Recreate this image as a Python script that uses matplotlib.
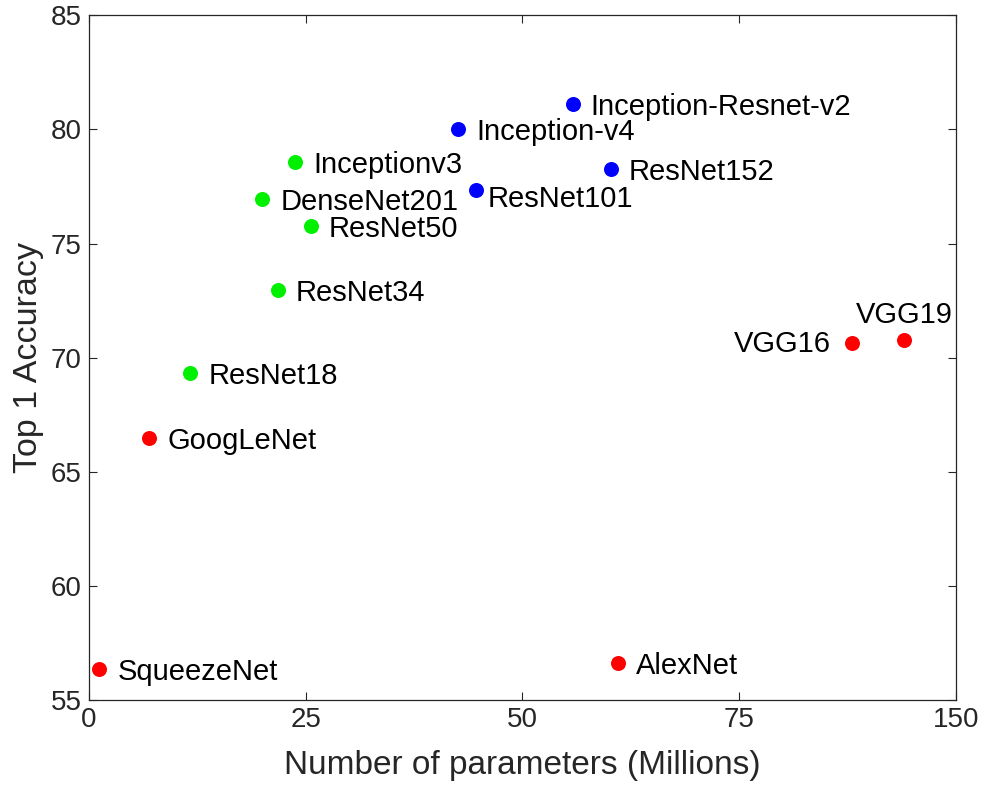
import numpy as np
import matplotlib
matplotlib.use("Agg")
import matplotlib.pyplot as plt

plt.rcParams['font.family'] = ['Liberation Sans', 'DejaVu Sans']

names = ["SqueezeNet", "GoogLeNet", "ResNet18", "ResNet34", "ResNet50",
         "DenseNet201", "Inceptionv3", "Inception-v4", "ResNet101",
         "Inception-Resnet-v2", "ResNet152", "AlexNet", "VGG16", "VGG19"]
params = np.array([1.2, 7.0, 11.7, 21.8, 25.6, 20.0, 23.8, 42.6, 44.6,
                   55.8, 60.2, 61.0, 138.0, 144.0])
top1 = np.array([56.35, 66.47, 69.32, 72.95, 75.77, 76.94, 78.56, 80.02,
                 77.35, 81.1, 78.28, 56.62, 70.66, 70.77])
groups = ["r", "r", "g", "g", "g", "g", "g", "b", "b", "b", "b", "r", "r", "r"]
xticks_vals = [0, 25, 50, 75, 100]
xtick_labels = ["0", "25", "50", "75", "150"]

color_map = {"r": "#ff0000", "g": "#00f000", "b": "#0000ff"}
# compressed axis: values above 100 M are drawn shifted by 50 (last tick reads 150)
xplot = np.where(params > 100, params - 50, params)

fig = plt.figure(figsize=(9.84, 7.9), dpi=100)
ax = fig.add_axes([0.0902, 0.1139, 0.8814, 0.8667])

for xv, yv, g in zip(xplot, top1, groups):
    ax.plot(xv, yv, "o", color=color_map[g], markersize=10.8, markeredgewidth=0)

offsets = {n: (13, 0, "left", "center_baseline") for n in names}
offsets["ResNet101"] = (8.5, -4.5, "left", "center_baseline")
offsets["VGG16"] = (-15.5, 1.5, "right", "center_baseline")
offsets["VGG19"] = (0, 8, "center", "bottom")

for n, xv, yv in zip(names, xplot, top1):
    dx, dy, ha, va = offsets[n]
    ax.annotate(n, (xv, yv), xytext=(dx, dy), textcoords="offset points",
                ha=ha, va=va, fontsize=21, color="black")

ax.set_xlim(0, 100)
ax.set_ylim(55, 85)
ax.set_xticks(xticks_vals)
ax.set_xticklabels(xtick_labels)
ax.set_yticks([55, 60, 65, 70, 75, 80, 85])

dark = "#262626"
for s in ax.spines.values():
    s.set_color(dark)
    s.set_linewidth(0.9)
ax.tick_params(direction="in", length=6, width=0.8, colors=dark,
               labelsize=20, top=True, right=True, pad=5)
ax.set_xlabel("Number of parameters (Millions)", fontsize=24, color=dark, labelpad=12)
ax.set_ylabel("Top 1 Accuracy", fontsize=24.5, color=dark, labelpad=5)

fig.savefig("out.png", dpi=100)
